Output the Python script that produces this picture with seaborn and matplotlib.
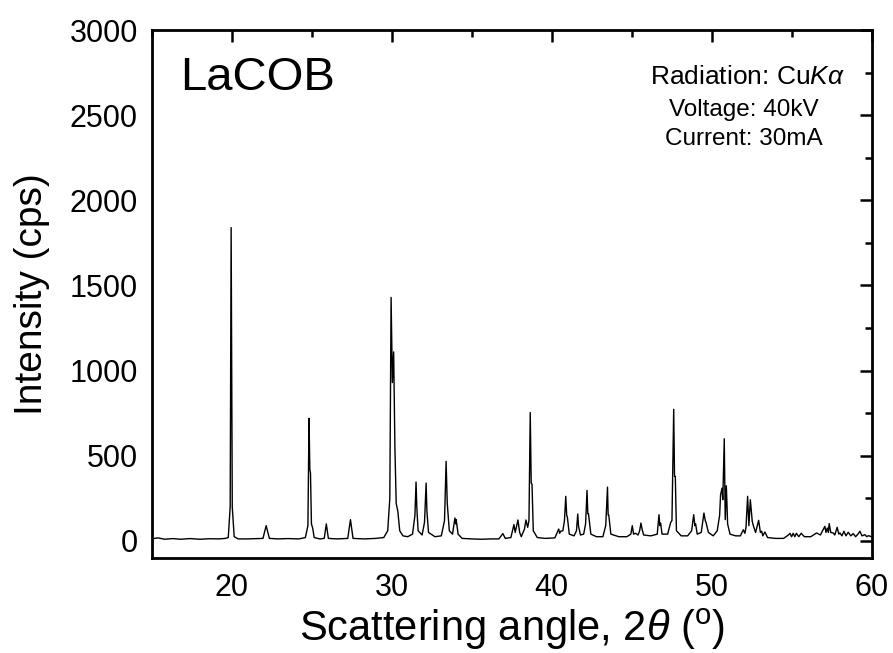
import pandas as pd
import seaborn as sns
import matplotlib.pyplot as plt
from matplotlib.ticker import MultipleLocator

sns.set_style('white')
plt.rcParams['font.family'] = ['Liberation Sans', 'DejaVu Sans']
plt.rcParams['mathtext.fontset'] = 'custom'
plt.rcParams['mathtext.rm'] = 'Liberation Sans'
plt.rcParams['mathtext.it'] = 'Liberation Sans:italic'
for key in ['text.color', 'axes.labelcolor', 'xtick.color', 'ytick.color', 'axes.edgecolor']:
    plt.rcParams[key] = 'black'

# XRD trace of LaCOB, vertices (2theta in degrees, counts per second)
two_theta = [
    15.0, 15.1, 15.4, 15.8, 16.3, 16.8, 17.4, 18.0, 18.6, 19.2, 19.6,
    19.78, 19.9, 19.96, 20.03, 20.15, 20.4,
    21.0, 21.6, 21.95, 22.15, 22.35, 22.9, 23.5, 24.2, 24.6,
    24.76, 24.83, 24.88, 24.92, 24.98, 25.06, 25.15, 25.5,
    25.78, 25.91, 26.04, 26.6, 27.25, 27.42, 27.58, 28.3, 29.0, 29.5, 29.75,
    29.88, 29.96, 30.04, 30.12, 30.2, 30.28, 30.38, 30.5, 30.7, 31.0, 31.3,
    31.45, 31.52, 31.57, 31.65, 31.9, 32.05, 32.15, 32.2, 32.3, 32.7, 33.1, 33.3,
    33.4, 33.47, 33.6, 33.8, 33.95, 34.0, 34.03, 34.15, 34.4, 35.0, 35.6, 36.2, 36.7,
    36.95, 37.1, 37.45, 37.64, 37.72, 37.89, 38.0, 38.1, 38.3, 38.39, 38.5, 38.58,
    38.66, 38.72, 38.77, 38.85, 39.1, 39.6, 40.2, 40.44, 40.5, 40.56, 40.7, 40.8,
    40.88, 40.94, 40.98, 41.1, 41.4, 41.55, 41.63, 41.68, 41.8, 42.0, 42.12,
    42.21, 42.26, 42.3, 42.45, 42.8, 43.2, 43.38, 43.49, 43.53, 43.57, 43.7, 44.2, 44.7, 44.95,
    45.04, 45.12, 45.25, 45.4, 45.5, 45.58, 45.65, 45.75, 46.2, 46.6, 46.71, 46.76, 46.81, 46.9, 47.25,
    47.44, 47.52, 47.63, 47.68, 47.73, 47.8, 48.1, 48.5, 48.75, 48.88, 48.95, 49.0, 49.1, 49.35,
    49.52, 49.6, 49.65, 49.8, 50.1, 50.35, 50.5, 50.56, 50.65, 50.7, 50.79, 50.85, 50.92, 51.0, 51.15, 51.5, 51.8,
    51.98, 52.08, 52.15, 52.25, 52.33, 52.42, 52.54, 52.62, 52.75, 52.94, 53.05, 53.13, 53.2, 53.33, 53.5, 54.0, 54.5,
    54.8, 54.9, 55.0, 55.1, 55.2, 55.3, 55.45, 55.6, 55.8, 56.2, 56.56, 56.8, 57.08, 57.15, 57.23, 57.3, 57.35,
    57.45, 57.6, 57.7, 57.85, 57.95, 58.02, 58.15, 58.27, 58.4, 58.54, 58.7, 58.85, 59.0, 59.15, 59.27, 59.4,
    59.58, 59.7, 59.8, 60.0,
]
counts = [
    18, 14, 18, 10, 14, 10, 14, 10, 13, 12, 15,
    20, 200, 1840, 200, 25, 12,
    12, 14, 15, 90, 15, 12, 14, 12, 20,
    90, 720, 420, 400, 100, 75, 20, 12,
    15, 100, 15, 12, 15, 125, 15, 12, 15, 20, 60,
    250, 1430, 930, 1110, 540, 220, 175, 60, 30, 25, 40,
    150, 346, 193, 60, 35, 110, 340, 174, 50, 25, 30, 120,
    467, 223, 60, 40, 135, 100, 125, 40, 15, 12, 10, 12, 12,
    43, 15, 20, 96, 50, 123, 50, 25, 70, 123, 80, 120,
    754, 340, 334, 60, 20, 15, 18, 70, 45, 57, 60, 120,
    262, 150, 141, 40, 30, 60, 158, 86, 35, 40, 100,
    297, 160, 160, 40, 25, 25, 90, 316, 152, 152, 40, 25, 25, 40,
    90, 40, 45, 35, 60, 105, 70, 35, 30, 40, 154, 90, 105, 40, 40,
    109, 120, 773, 380, 379, 60, 30, 30, 60, 154, 90, 100, 40, 50,
    164, 120, 109, 50, 30, 60, 150, 271, 310, 242, 600, 125, 324, 100, 40, 30, 30,
    66, 45, 80, 262, 90, 242, 115, 86, 50, 121, 50, 57, 30, 53, 20, 15, 15,
    35, 45, 25, 45, 25, 45, 25, 45, 25, 25, 47, 35, 86, 50, 76, 50, 102,
    50, 47, 35, 80, 40, 47, 30, 57, 30, 51, 30, 43, 25, 40, 57, 30,
    37, 25, 31, 25,
]

x_ticks = [20, 30, 40, 50, 60]
y_ticks = [0, 500, 1000, 1500, 2000, 2500, 3000]

df = pd.DataFrame({'two_theta': two_theta, 'counts': counts})

fig = plt.figure(figsize=(8.93, 6.53), dpi=100)
ax = fig.add_axes([0.170, 0.1455, 0.806, 0.8085])

sns.lineplot(data=df, x='two_theta', y='counts', ax=ax, color='black',
             linewidth=1.0, estimator=None, sort=False)

ax.set_xlim(15, 60)
ax.set_ylim(-100, 3000)
ax.set_xticks(x_ticks)
ax.set_yticks(y_ticks)
ax.xaxis.set_minor_locator(MultipleLocator(5))
ax.yaxis.set_minor_locator(MultipleLocator(250))

ax.tick_params(which='both', direction='in', top=True, right=True, width=1.8)
ax.tick_params(which='major', length=8.5)
ax.tick_params(which='minor', length=5)
ax.tick_params(axis='x', labelsize=22, pad=10.5)
ax.tick_params(axis='y', labelsize=22, pad=10)
for sp in ax.spines.values():
    sp.set_linewidth(2)

ax.set_xlabel(r'Scattering angle, 2$\theta$ ($^{\mathrm{o}}$)', fontsize=30, labelpad=3)
ax.set_ylabel('Intensity (cps)', fontsize=28, labelpad=14)

ax.text(0.039, 0.886, 'LaCOB', transform=ax.transAxes, fontsize=34, va='baseline', ha='left')
ax.text(0.9625, 0.911, r'Radiation: Cu$K\alpha$', transform=ax.transAxes, fontsize=19, ha='right', va='center')
ax.text(0.822, 0.849, 'Voltage: 40kV', transform=ax.transAxes, fontsize=17.5, ha='center', va='center')
ax.text(0.822, 0.794, 'Current: 30mA', transform=ax.transAxes, fontsize=17.5, ha='center', va='center')

plt.savefig('out.png', dpi=100)
